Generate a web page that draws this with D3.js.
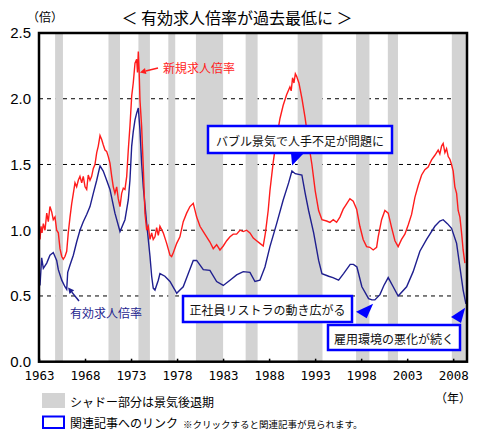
<!DOCTYPE html>
<html>
<head>
<meta charset="utf-8">
<script src="https://cdn.jsdelivr.net/npm/d3@7"></script>
<style>
  body { margin: 0; background: #fff; }
  svg { display: block; }
</style>
</head>
<body>
<svg id="chart" width="492" height="435"></svg>
<script>
// ---- data ----
const yearTicks = [1963, 1968, 1973, 1978, 1983, 1988, 1993, 1998, 2003, 2008]
const ratioTicks = [0, 0.5, 1.0, 1.5, 2.0, 2.5]
const gridTicks = [0.5, 1.0, 1.5, 2.0]

// recession periods (shaded), decimal years
const recessions = [
  [1964.75, 1965.6], [1970.55, 1971.8], [1973.8, 1975.05], [1977.05, 1977.8],
  [1980.05, 1983.0], [1985.45, 1986.75], [1991.1, 1993.8], [1997.45, 1998.9],
  [2000.9, 2002.0], [2007.85, 2009.5]
]

// 新規求人倍率 (new openings-to-applicants ratio)
const newJobsRatio = [
  [1963.11,0.93],[1963.22,1.03],[1963.33,0.98],[1963.47,1.05],[1963.65,1.00],[1963.84,1.13],
  [1964.01,1.065],[1964.19,1.18],[1964.38,1.14],[1964.55,1.08],[1964.74,1.10],[1964.92,1.00],
  [1965.10,0.98],[1965.28,0.86],[1965.47,0.80],[1965.64,0.78],[1965.82,0.80],[1966.01,0.84],
  [1966.18,0.98],[1966.37,1.10],[1966.55,1.20],[1966.73,1.28],[1966.91,1.36],[1967.09,1.33],
  [1967.27,1.38],[1967.45,1.41],[1967.64,1.36],[1967.81,1.41],[1968.00,1.33],[1968.18,1.31],
  [1968.35,1.42],[1968.54,1.38],[1968.72,1.41],[1968.90,1.47],[1969.08,1.50],[1969.27,1.59],
  [1969.44,1.64],[1969.63,1.72],[1969.81,1.69],[1969.98,1.65],[1970.17,1.61],[1970.35,1.60],
  [1970.53,1.56],[1970.71,1.51],[1970.90,1.41],[1971.07,1.33],[1971.25,1.28],[1971.44,1.33],
  [1971.61,1.24],[1971.80,1.18],[1971.98,1.28],[1972.16,1.32],[1972.34,1.31],[1972.53,1.41],
  [1972.70,1.61],[1972.88,1.79],[1973.07,2.02],[1973.24,2.12],[1973.43,2.27],[1973.61,2.30],
  [1973.70,2.20],[1973.79,2.36],[1973.88,2.21],[1973.97,1.99],[1974.15,1.79],[1974.33,1.48],
  [1974.51,1.13],[1974.70,1.00],[1974.87,1.03],[1975.06,0.93],[1975.24,0.98],[1975.41,0.93],
  [1975.60,0.95],[1975.78,1.02],[1975.96,0.96],[1976.14,1.03],[1976.50,0.98],[1976.87,0.90],
  [1977.23,0.81],[1977.41,0.80],[1977.60,0.83],[1977.96,0.90],[1978.31,0.95],[1978.67,1.065],
  [1979.04,1.13],[1979.40,1.18],[1979.76,1.205],[1980.13,1.10],[1980.49,1.03],[1980.85,0.99],
  [1981.21,0.95],[1981.57,0.91],[1981.93,0.86],[1982.30,0.89],[1982.66,0.85],[1983.02,0.88],
  [1983.39,0.92],[1983.75,0.95],[1984.10,0.97],[1984.47,0.97],[1984.83,1.00],[1985.19,0.99],
  [1985.56,1.00],[1985.92,0.98],[1986.28,0.94],[1986.64,0.92],[1987.00,0.90],[1987.36,0.88],
  [1987.60,0.98],[1987.90,1.15],[1988.09,1.30],[1988.45,1.52],[1988.82,1.70],[1989.18,1.85],
  [1989.53,1.95],[1989.90,2.03],[1990.26,2.09],[1990.40,2.06],[1990.55,2.16],[1990.70,2.12],
  [1990.85,2.19],[1990.99,2.17],[1991.24,2.12],[1991.57,2.00],[1991.92,1.85],[1992.29,1.66],
  [1992.65,1.50],[1993.01,1.30],[1993.38,1.15],[1993.74,1.08],[1994.25,1.07],[1994.61,1.06],
  [1994.97,1.08],[1995.33,1.06],[1995.69,1.10],[1996.05,1.16],[1996.42,1.20],[1996.78,1.24],
  [1997.14,1.22],[1997.51,1.16],[1997.86,1.03],[1998.22,0.93],[1998.59,0.875],[1998.95,0.87],
  [1999.31,0.85],[1999.68,0.87],[1999.85,0.95],[2000.22,1.08],[2000.58,1.15],[2000.94,1.13],
  [2001.31,1.02],[2001.67,0.92],[2002.02,0.875],[2002.39,0.93],[2002.75,0.97],[2003.11,1.04],
  [2003.48,1.12],[2003.84,1.25],[2004.20,1.34],[2004.57,1.42],[2004.92,1.46],[2005.28,1.48],
  [2005.65,1.535],[2006.01,1.57],[2006.37,1.61],[2006.55,1.58],[2006.74,1.64],[2006.91,1.66],
  [2007.10,1.59],[2007.28,1.62],[2007.46,1.56],[2007.64,1.54],[2007.82,1.50],[2008.00,1.45],
  [2008.18,1.33],[2008.37,1.28],[2008.54,1.15],[2008.73,1.10],[2008.91,0.98],[2009.08,0.85],
  [2009.27,0.75]
]

// 有効求人倍率 (active openings-to-applicants ratio)
const jobsRatio = [
  [1963.11,0.58],[1963.29,0.79],[1963.47,0.71],[1963.84,0.75],[1964.19,0.81],[1964.55,0.83],
  [1964.92,0.77],[1965.10,0.70],[1965.47,0.62],[1965.82,0.57],[1966.01,0.55],[1966.12,0.68],
  [1966.37,0.735],[1966.73,0.81],[1967.09,0.91],[1967.45,1.00],[1967.81,1.065],[1968.18,1.12],
  [1968.54,1.18],[1968.90,1.28],[1969.27,1.38],[1969.63,1.49],[1969.98,1.45],[1970.35,1.38],
  [1970.71,1.31],[1971.25,1.13],[1971.80,0.99],[1972.34,1.08],[1972.70,1.23],[1972.88,1.38],
  [1973.07,1.64],[1973.24,1.75],[1973.43,1.84],[1973.61,1.89],[1973.79,1.93],[1973.97,1.76],
  [1974.15,1.51],[1974.33,1.33],[1974.70,1.05],[1975.06,0.80],[1975.24,0.65],[1975.41,0.56],
  [1975.60,0.545],[1975.96,0.62],[1976.14,0.67],[1976.68,0.65],[1977.23,0.61],[1977.77,0.545],
  [1977.96,0.52],[1978.31,0.545],[1978.67,0.57],[1979.22,0.67],[1979.76,0.77],[1980.13,0.77],
  [1980.85,0.70],[1981.57,0.695],[1982.30,0.61],[1983.02,0.58],[1983.75,0.62],[1984.47,0.66],
  [1985.19,0.685],[1985.92,0.68],[1986.46,0.61],[1987.00,0.62],[1987.55,0.72],[1988.09,0.875],
  [1988.82,1.05],[1989.53,1.23],[1990.12,1.36],[1990.48,1.45],[1990.84,1.43],[1991.56,1.42],
  [1991.92,1.28],[1992.29,1.15],[1992.84,0.98],[1993.38,0.77],[1993.74,0.67],[1994.47,0.65],
  [1994.93,0.64],[1995.55,0.62],[1996.09,0.67],[1996.81,0.74],[1997.16,0.74],[1997.54,0.72],
  [1998.08,0.57],[1998.81,0.48],[1999.17,0.47],[1999.49,0.47],[2000.04,0.51],[2000.47,0.58],
  [2000.94,0.64],[2001.48,0.57],[2002.02,0.50],[2002.94,0.57],[2003.65,0.685],[2004.38,0.84],
  [2005.11,0.93],[2006.01,1.03],[2006.55,1.07],[2006.91,1.08],[2007.37,1.05],[2007.82,1.015],
  [2008.37,0.90],[2008.73,0.72],[2009.08,0.545],[2009.38,0.44]
]

// ---- chart ----
const jpFont = "'Noto Sans CJK JP', 'Noto Sans', sans-serif"
const plot = { left: 39, right: 467, top: 33, bottom: 361.7 }

const svg = d3.select("#chart")
svg.append("rect").attr("width", 492).attr("height", 435).attr("fill", "#fff")

const x = d3.scaleLinear().domain([1963, 2009.5]).range([plot.left, plot.right])
const y = d3.scaleLinear().domain([0, 2.5]).range([plot.bottom, plot.top])

//dashed grid
svg.append("g").selectAll("line")
  .data(gridTicks)
  .join("line")
  .attr("x1", plot.left).attr("x2", plot.right)
  .attr("y1", d => y(d)).attr("y2", d => y(d))
  .attr("stroke", "#000").attr("stroke-width", 1)
  .attr("stroke-dasharray", "4,4")

//recession bands drawn over the grid
svg.append("g").selectAll("rect")
  .data(recessions)
  .join("rect")
  .attr("x", d => x(d[0]))
  .attr("width", d => x(d[1]) - x(d[0]))
  .attr("y", y(2.5))
  .attr("height", y(0) - y(2.5))
  .attr("fill", "#d3d3d3")

const line = d3.line().x(d => x(d[0])).y(d => y(d[1]))

svg.append("path").datum(jobsRatio)
  .attr("d", line).attr("fill", "none")
  .attr("stroke", "#1f1f8f").attr("stroke-width", 1.4)

svg.append("path").datum(newJobsRatio)
  .attr("d", line).attr("fill", "none")
  .attr("stroke", "#ff1c1c").attr("stroke-width", 1.4)

//frame
svg.append("rect")
  .attr("x", plot.left).attr("y", plot.top)
  .attr("width", plot.right - plot.left).attr("height", plot.bottom - plot.top)
  .attr("fill", "none").attr("stroke", "#000").attr("stroke-width", 2.5)

//x axis (ticks point inward)
const xAxis = svg.append("g")
  .attr("transform", `translate(0,${plot.bottom})`)
  .call(d3.axisBottom(x).tickValues(yearTicks).tickFormat(d3.format("d")).tickSize(-3).tickPadding(9))
xAxis.select(".domain").remove()
xAxis.selectAll("line").attr("stroke", "#000").attr("stroke-width", 1.5)
xAxis.selectAll("text")
  .attr("font-family", "'DejaVu Sans Mono', monospace")
  .attr("font-size", 12.5).attr("fill", "#000")

//y axis labels
const yAxis = svg.append("g")
  .attr("transform", `translate(${plot.left - 8},0)`)
  .call(d3.axisLeft(y).tickValues(ratioTicks).tickFormat(d3.format(".1f")).tickSize(0).tickPadding(0))
yAxis.select(".domain").remove()
yAxis.selectAll("text")
  .attr("font-family", "'Liberation Sans', Arial, sans-serif")
  .attr("font-size", 15).attr("fill", "#000")

//titles and units
svg.append("text").attr("x", 237).attr("y", 17)
  .attr("text-anchor", "middle").attr("dominant-baseline", "central")
  .attr("font-family", jpFont).attr("font-size", 16)
  .text("＜ 有効求人倍率が過去最低に ＞")

svg.append("text").attr("x", 45).attr("y", 16)
  .attr("text-anchor", "middle").attr("dominant-baseline", "central")
  .attr("font-family", jpFont).attr("font-size", 12)
  .text("（倍）")

svg.append("text").attr("x", 453).attr("y", 397)
  .attr("text-anchor", "middle").attr("dominant-baseline", "central")
  .attr("font-family", jpFont).attr("font-size", 12)
  .text("（年）")

//series labels with arrows
function arrow(x1, y1, x2, y2, color) {
  const ang = Math.atan2(y2 - y1, x2 - x1)
  const len = 6, w = 3
  const bx = x2 - len * Math.cos(ang), by = y2 - len * Math.sin(ang)
  svg.append("line").attr("x1", x1).attr("y1", y1).attr("x2", bx).attr("y2", by)
    .attr("stroke", color).attr("stroke-width", 1.5)
  svg.append("path")
    .attr("d", `M${x2},${y2}L${bx + w * Math.sin(ang)},${by - w * Math.cos(ang)}L${bx - w * Math.sin(ang)},${by + w * Math.cos(ang)}Z`)
    .attr("fill", color)
}

svg.append("text").attr("x", 163).attr("y", 67)
  .attr("dominant-baseline", "central")
  .attr("font-family", jpFont).attr("font-size", 12).attr("fill", "#ff1c1c")
  .text("新規求人倍率")
arrow(158, 68, x(1973.85) + 1, y(2.2), "#ff1c1c")

svg.append("text").attr("x", 70).attr("y", 312)
  .attr("dominant-baseline", "central")
  .attr("font-family", jpFont).attr("font-size", 12).attr("fill", "#1f1f8f")
  .text("有効求人倍率")
arrow(79, 301, x(1966.05) + 1, y(0.58) + 2, "#1f1f8f")

//link boxes
const boxes = [
  { text: "バブル景気で人手不足が問題に", x: 208, y: 126, w: 184, h: 27,
    tail: [[291, 153], [304, 153], [x(1990.5), y(1.5) + 1]] },
  { text: "正社員リストラの動き広がる", x: 183, y: 296, w: 169, h: 26,
    tail: [[356, 311.7], [x(1999.3), y(0.44)], [366.7, 318.3]] },
  { text: "雇用環境の悪化が続く", x: 328, y: 325, w: 132, h: 25,
    tail: [[451, 317], [x(2009.3), y(0.41)], [461, 323]] }
]

boxes.forEach(b => {
  svg.append("rect").attr("x", b.x).attr("y", b.y).attr("width", b.w).attr("height", b.h)
    .attr("fill", "#fff").attr("stroke", "#0000ff").attr("stroke-width", 2.5)
  svg.append("text").attr("x", b.x + b.w / 2).attr("y", b.y + b.h / 2 + 0.5)
    .attr("text-anchor", "middle").attr("dominant-baseline", "central")
    .attr("font-family", jpFont).attr("font-size", 12).attr("fill", "#111")
    .text(b.text)
  svg.append("path").attr("d", "M" + b.tail.join("L") + "Z").attr("fill", "#0000ff")
})

//legend
svg.append("rect").attr("x", 42).attr("y", 393).attr("width", 23).attr("height", 15).attr("fill", "#d3d3d3")
svg.append("text").attr("x", 70).attr("y", 401)
  .attr("dominant-baseline", "central")
  .attr("font-family", jpFont).attr("font-size", 12)
  .text("シャドー部分は景気後退期")

svg.append("rect").attr("x", 43).attr("y", 416.5).attr("width", 21).attr("height", 11.5)
  .attr("fill", "#fff").attr("stroke", "#0000ff").attr("stroke-width", 2)
svg.append("text").attr("x", 70).attr("y", 422.5)
  .attr("dominant-baseline", "central")
  .attr("font-family", jpFont).attr("font-size", 12)
  .text("関連記事へのリンク")
svg.append("text").attr("x", 183).attr("y", 423.5)
  .attr("dominant-baseline", "central")
  .attr("font-family", jpFont).attr("font-size", 9.5)
  .text("※クリックすると関連記事が見られます。")
</script>
</body>
</html>
